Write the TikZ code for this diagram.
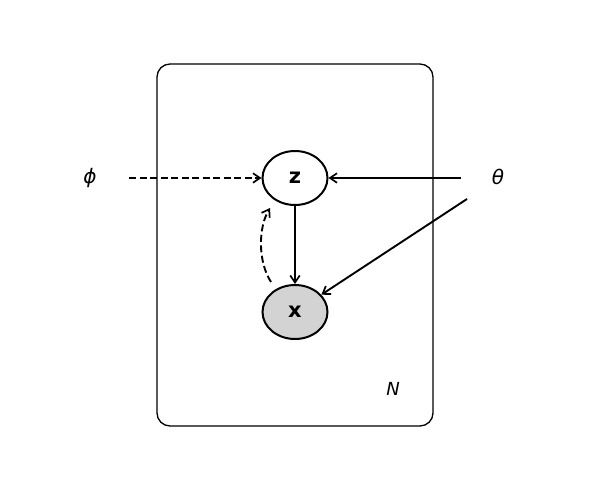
\documentclass[tikz,border=0pt]{standalone}
\usepackage{fontspec}
\setmainfont{DejaVu Sans}
\usetikzlibrary{arrows.meta,shapes.geometric}
\begin{document}
\begin{tikzpicture}[x=1pt,y=-1pt,
  var/.style={draw,line width=2pt,ellipse,minimum width=65pt,minimum height=54pt,inner sep=0pt,font=\fontsize{21}{23}\selectfont\bfseries},
  lab/.style={font=\fontsize{20}{22}\selectfont\itshape,inner sep=0pt},
  edge/.style={line width=1.9pt,-{Straight Barb[length=7pt,width=9.5pt,line width=1.7pt]}},
  dashedge/.style={edge,dash pattern=on 7pt off 3.5pt}]
\useasboundingbox (0,0) rectangle (590,490);
\draw[line width=1.3pt,rounded corners=13pt] (157,64) rectangle (433,426);
\node[var] (z) at (295,178) {z};
\node[var,fill={rgb,255:red,211;green,211;blue,211}] (x) at (295,312) {x};
\node[lab] (phi) at (90,178) {ϕ};
\node[lab] (theta) at (498,177) {θ};
\node[lab,font=\fontsize{18}{20}\selectfont\itshape] (N) at (393,389) {N};
\coordinate (phiend) at (129,178);
\coordinate (thA) at (461,178);
\coordinate (thB) at (467,199);
\coordinate (qs) at (271,282);
\coordinate (qe) at (270,208);
\draw[dashedge] (phiend) -- (z.west);
\draw[edge] (thA) -- (z.east);
\draw[edge] (z.south) -- (x.north);
\draw[edge] (thB) -- (x);
\draw[dashedge] (qs) .. controls (258,262) and (258,228) .. (qe);
\end{tikzpicture}
\end{document}
